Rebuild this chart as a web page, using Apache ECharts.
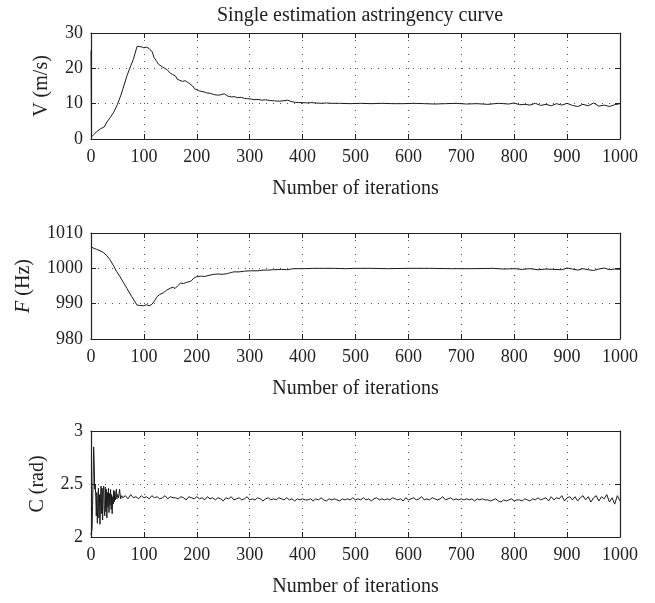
<!DOCTYPE html>
<html>
<head>
<meta charset="utf-8">
<script src="https://cdn.jsdelivr.net/npm/echarts@6/dist/echarts.min.js"></script>
<style>
  html, body { margin: 0; padding: 0; background: #fff; }
  #chart { width: 655px; height: 603px; }
</style>
</head>
<body>
<div id="chart"></div>
<script>
// V (m/s) curve
const vIter = [
    0, 1, 5, 10, 18, 25, 30, 36, 43, 50,
    56, 62, 68, 75, 80, 87, 90, 95, 100, 105,
    110, 113, 116, 119, 124, 128, 135, 144, 150, 154,
    157, 160, 163, 168, 173, 178, 182, 187, 192, 196,
    198, 203, 208, 214, 220, 226, 232, 239, 245, 252,
    258, 265, 271, 277, 284, 290, 296, 303, 310, 316,
    322, 330, 338, 347, 355, 363, 372, 378, 385, 393,
    400, 410, 416, 425, 435, 445, 454, 470, 490, 510,
    530, 550, 570, 590, 610, 630, 650, 670, 690, 710,
    730, 750, 770, 790, 800, 810, 820, 830, 840, 850,
    860, 870, 880, 890, 900, 910, 920, 930, 940, 950,
    960, 970, 980, 990, 1000
];
const vValue = [
    25, 0.6, 1.2, 2.0, 2.9, 3.4, 4.8, 6.0, 7.6, 9.8,
    12.2, 15.0, 17.9, 20.7, 22.5, 26.2, 25.9, 26.1, 25.8, 26.0,
    25.6, 25.8, 24.6, 23.1, 22.0, 21.1, 20.4, 19.6, 18.6, 18.3,
    18.7, 17.8, 16.9, 16.6, 16.3, 16.5, 16.1, 15.6, 15.0, 14.2,
    13.8, 13.7, 13.5, 13.3, 13.0, 12.9, 12.6, 12.4, 12.5, 12.8,
    12.2, 11.9, 12.0, 11.7, 11.8, 11.5, 11.4, 11.3, 11.1, 11.2,
    11.0, 11.1, 10.9, 10.8, 10.7, 10.8, 11.0, 10.6, 10.4, 10.3,
    10.3, 10.2, 10.3, 10.2, 10.1, 10.2, 10.1, 10.1, 10.0, 10.1,
    10.0, 10.1, 10.0, 10.0, 10.1, 10.0, 9.9, 10.0, 10.1, 9.9,
    10.0, 9.8, 10.1, 9.9, 10.2, 9.7, 9.8, 9.6, 10.1, 9.5,
    9.8, 9.4, 10.0, 9.6, 10.1, 9.5, 9.2, 9.8, 9.4, 10.2,
    9.3, 9.6, 9.2, 9.7, 10.0
];

// F (Hz) curve
const fIter = [
    0, 5, 10, 17, 23, 30, 36, 42, 48, 55,
    62, 68, 73, 77, 82, 87, 92, 99, 105, 110,
    115, 120, 125, 130, 137, 143, 150, 155, 159, 164,
    169, 175, 180, 185, 190, 194, 199, 207, 215, 223,
    232, 240, 248, 258, 264, 270, 280, 290, 302, 315,
    325, 334, 345, 360, 372, 378, 384, 400, 420, 440,
    460, 480, 500, 530, 560, 600, 640, 680, 720, 760,
    780, 800, 815, 830, 845, 860, 875, 890, 900, 910,
    920, 930, 940, 950, 960, 970, 980, 990, 1000
];
const fValue = [
    1006.1, 1005.7, 1005.4, 1005.0, 1004.5, 1003.6, 1002.4, 1000.9, 999.2, 997.6,
    995.8, 994.3, 993.0, 992.0, 990.8, 989.6, 989.5, 989.4, 989.7, 989.4,
    989.8, 990.8, 992.0, 992.6, 993.1, 993.8, 994.4, 994.6, 994.3, 995.1,
    995.8, 995.7, 996.0, 996.2, 996.5, 997.2, 997.6, 997.8, 997.7, 998.0,
    998.3, 998.4, 998.3, 998.5, 998.8, 999.0, 999.0, 999.2, 999.3, 999.3,
    999.5, 999.5, 999.6, 999.7, 999.6, 999.8, 999.9, 999.9, 1000.0, 1000.0,
    1000.0, 999.9, 1000.0, 1000.0, 999.9, 1000.0, 1000.0, 999.9, 999.9, 1000.0,
    999.8, 999.9, 999.7, 999.9, 999.6, 999.8, 999.7, 999.6, 1000.1, 999.8,
    999.5, 999.9, 999.6, 999.4, 999.8, 1000.1, 999.6, 999.8, 999.7
];

// C (rad) curve: dense at the start, then every 5 iterations
const cIter = [
    0, 1, 2, 3, 4, 5, 6, 7, 8, 9,
    10, 11, 12, 13, 14, 15, 16, 17, 18, 19,
    20, 21, 22, 23, 24, 25, 26, 27, 28, 29,
    30, 31, 32, 33, 34, 35, 36, 37, 38, 39,
    40, 41, 42, 43, 44, 45, 46, 47, 48, 49,
    50, 52, 54, 56, 58,
    60, 65, 70, 75, 80, 85, 90, 95, 100, 105,
    110, 115, 120, 125, 130, 135, 140, 145, 150, 155,
    160, 165, 170, 175, 180, 185, 190, 195, 200, 205,
    210, 215, 220, 225, 230, 235, 240, 245, 250, 255,
    260, 265, 270, 275, 280, 285, 290, 295, 300, 305,
    310, 315, 320, 325, 330, 335, 340, 345, 350, 355,
    360, 365, 370, 375, 380, 385, 390, 395, 400, 405,
    410, 415, 420, 425, 430, 435, 440, 445, 450, 455,
    460, 465, 470, 475, 480, 485, 490, 495, 500, 505,
    510, 515, 520, 525, 530, 535, 540, 545, 550, 555,
    560, 565, 570, 575, 580, 585, 590, 595, 600, 605,
    610, 615, 620, 625, 630, 635, 640, 645, 650, 655,
    660, 665, 670, 675, 680, 685, 690, 695, 700, 705,
    710, 715, 720, 725, 730, 735, 740, 745, 750, 755,
    760, 765, 770, 775, 780, 785, 790, 795, 800, 805,
    810, 815, 820, 825, 830, 835, 840, 845, 850, 855,
    860, 865, 870, 875, 880, 885, 890, 895, 900, 905,
    910, 915, 920, 925, 930, 935, 940, 945, 950, 955,
    960, 965, 970, 975, 980, 985, 990, 995, 1000
];
const cValue = [
    2.02, 2.03, 2.08, 2.30, 2.55, 2.85, 2.70, 2.45, 2.50, 2.38,
    2.20, 2.42, 2.13, 2.34, 2.46, 2.18, 2.40, 2.12, 2.36, 2.48,
    2.22, 2.46, 2.16, 2.44, 2.48, 2.26, 2.20, 2.47, 2.24, 2.45,
    2.18, 2.42, 2.28, 2.46, 2.23, 2.41, 2.30, 2.45, 2.26, 2.40,
    2.22, 2.38, 2.31, 2.44, 2.33, 2.43, 2.35, 2.39, 2.45, 2.36,
    2.40, 2.37, 2.45, 2.36, 2.39,
    2.37, 2.39, 2.36, 2.40, 2.37, 2.38, 2.36, 2.39, 2.37, 2.38,
    2.36, 2.39, 2.37, 2.38, 2.36, 2.37, 2.39, 2.36, 2.38, 2.37,
    2.37, 2.36, 2.38, 2.37, 2.35, 2.38, 2.37, 2.36, 2.38, 2.36,
    2.37, 2.35, 2.38, 2.36, 2.37, 2.35, 2.37, 2.36, 2.34, 2.37,
    2.36, 2.38, 2.35, 2.36, 2.37, 2.35, 2.36, 2.38, 2.35, 2.36,
    2.35, 2.37, 2.36, 2.34, 2.36, 2.37, 2.35, 2.36, 2.35, 2.37,
    2.36, 2.35, 2.37, 2.35, 2.36, 2.34, 2.36, 2.35, 2.36, 2.35,
    2.35, 2.36, 2.34, 2.36, 2.35, 2.37, 2.35, 2.34, 2.36, 2.35,
    2.36, 2.35, 2.34, 2.36, 2.35, 2.36, 2.35, 2.37, 2.35, 2.36,
    2.35, 2.37, 2.35, 2.36, 2.34, 2.36, 2.37, 2.35, 2.36, 2.35,
    2.36, 2.35, 2.37, 2.36, 2.35, 2.36, 2.34, 2.37, 2.35, 2.36,
    2.37, 2.35, 2.36, 2.38, 2.35, 2.36, 2.35, 2.37, 2.36, 2.35,
    2.36, 2.38, 2.35, 2.36, 2.37, 2.35, 2.36, 2.35, 2.36, 2.35,
    2.36, 2.35, 2.36, 2.34, 2.36, 2.35, 2.36, 2.35, 2.35, 2.34,
    2.35, 2.36, 2.34, 2.33, 2.35, 2.34, 2.35, 2.36, 2.34, 2.35,
    2.35, 2.34, 2.36, 2.35, 2.34, 2.36, 2.35, 2.37, 2.35, 2.36,
    2.37, 2.34, 2.38, 2.35, 2.37, 2.36, 2.39, 2.34, 2.37, 2.38,
    2.35, 2.38, 2.34, 2.37, 2.39, 2.35, 2.38, 2.33, 2.37, 2.39,
    2.34, 2.38, 2.36, 2.40, 2.33, 2.37, 2.31, 2.39, 2.34
];

const panels = [
    { iter: vIter, value: vValue, min: 0, max: 30, interval: 10, name: 'V (m/s)', nameGap: 39 },
    { iter: fIter, value: fValue, min: 980, max: 1010, interval: 10, name: '{i|F} (Hz)', nameGap: 57 },
    { iter: cIter, value: cValue, min: 2, max: 3, interval: 0.5, name: 'C (rad)', nameGap: 43 }
];
const gridTops = [33, 233, 431];

const FONT = '"Liberation Serif", "DejaVu Serif", serif';
const INK = '#222';

const chart = echarts.init(document.getElementById('chart'));

const grid = [];
const xAxis = [];
const yAxis = [];
const series = [];

function plain(v) { return String(v); }

panels.forEach(function (p, k) {
    grid.push({ left: 91, top: gridTops[k], width: 529, height: 106 });
    const dotted = { show: true, lineStyle: { color: '#555', width: 1, type: [1, 6] } };
    // bottom axis with labels and grid lines
    xAxis.push({
        gridIndex: k, type: 'value', min: 0, max: 1000, interval: 100,
        name: 'Number of iterations', nameLocation: 'middle', nameGap: 40,
        nameTextStyle: { fontFamily: FONT, fontSize: 20, color: INK },
        axisLine: { show: true, onZero: false, lineStyle: { color: INK, width: 1.2 } },
        axisTick: { show: true, inside: true, length: 5, lineStyle: { color: INK } },
        axisLabel: { fontFamily: FONT, fontSize: 18, color: INK, margin: 9, formatter: plain },
        splitLine: dotted
    });
    // top axis closes the box
    xAxis.push({
        gridIndex: k, type: 'value', position: 'top', min: 0, max: 1000, interval: 100,
        axisLine: { show: true, onZero: false, lineStyle: { color: INK, width: 1.2 } },
        axisTick: { show: true, inside: true, length: 5, lineStyle: { color: INK } },
        axisLabel: { show: false }, splitLine: { show: false }
    });
    yAxis.push({
        gridIndex: k, type: 'value', min: p.min, max: p.max, interval: p.interval,
        name: p.name, nameLocation: 'middle', nameGap: p.nameGap, nameRotate: 90,
        nameTextStyle: {
            fontFamily: FONT, fontSize: 20, color: INK,
            rich: { i: { fontFamily: FONT, fontSize: 20, color: INK, fontStyle: 'italic' } }
        },
        axisLine: { show: true, onZero: false, lineStyle: { color: INK, width: 1.2 } },
        axisTick: { show: true, inside: true, length: 5, lineStyle: { color: INK } },
        axisLabel: { fontFamily: FONT, fontSize: 18, color: INK, margin: 8, formatter: plain },
        splitLine: dotted
    });
    yAxis.push({
        gridIndex: k, type: 'value', position: 'right', min: p.min, max: p.max, interval: p.interval,
        axisLine: { show: true, onZero: false, lineStyle: { color: INK, width: 1.2 } },
        axisTick: { show: true, inside: true, length: 5, lineStyle: { color: INK } },
        axisLabel: { show: false }, splitLine: { show: false }
    });
    series.push({
        type: 'line',
        xAxisIndex: 2 * k, yAxisIndex: 2 * k,
        data: p.iter.map(function (x, i) { return [x, p.value[i]]; }),
        showSymbol: false,
        lineStyle: { color: '#1a1a1a', width: 1 }
    });
});

const option = {
    animation: false,
    title: {
        text: 'Single estimation astringency curve',
        left: 355, top: 1, textAlign: 'center',
        textStyle: { fontFamily: FONT, fontSize: 20, fontWeight: 'normal', color: INK }
    },
    grid: grid,
    xAxis: xAxis,
    yAxis: yAxis,
    series: series
};

chart.setOption(option);
window.addEventListener('resize', function () {
    chart.resize();
});
</script>
</body>
</html>
